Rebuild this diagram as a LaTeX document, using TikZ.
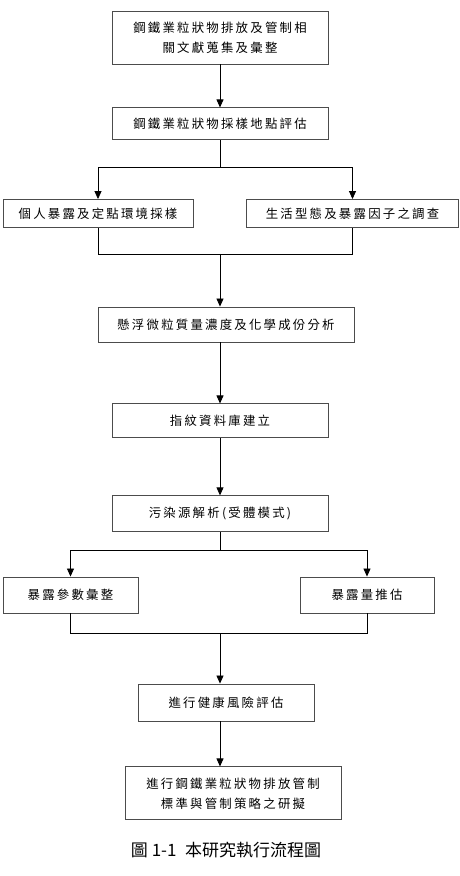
\documentclass[tikz,border=0pt]{standalone}
\usepackage{fontspec}
\newfontfamily\cjk[LetterSpace=18]{Noto Sans CJK TC}
\newfontfamily\cjkcap{Noto Sans CJK TC}
\usetikzlibrary{arrows.meta, positioning}

\begin{document}
\begin{tikzpicture}[
    x=1pt, y=1pt,
    node distance=40pt,
    block/.style={rectangle, draw=black!70, line width=0.9pt, minimum width=216pt, minimum height=34pt, align=center, inner sep=2pt, font=\cjk\fontsize{12.4}{20}\selectfont},
    arrow/.style={->, >={Triangle[width=7pt, length=8pt]}, line width=0.8pt},
    link/.style={line width=0.8pt}
]
\useasboundingbox (0,0) rectangle (460,-876);

\node[block, minimum height=53pt] (lit) at (220,-37.5) {鋼鐵業粒狀物排放及管制相\\關文獻蒐集及彙整};
\node[block, minimum height=32pt, below=43pt of lit] (site) {鋼鐵業粒狀物採樣地點評估};
\node[block, minimum width=190pt, minimum height=28pt] (pers) at (98,-213.5) {個人暴露及定點環境採樣};
\node[block, minimum width=212pt, minimum height=28pt] (life) at (352.5,-213.5) {生活型態及暴露因子之調查};
\node[block, minimum width=256pt, minimum height=35pt] (conc) at (226,-324.5) {懸浮微粒質量濃度及化學成份分析};
\node[block, below=61pt of conc, xshift=-6pt] (finger) {指紋資料庫建立};
\node[block, minimum height=36pt, below=57pt of finger] (source) {污染源解析(受體模式)};
\node[block, minimum width=135pt, minimum height=36pt] (param) at (70.5,-595) {暴露參數彙整};
\node[block, minimum width=134pt, minimum height=36pt] (dose) at (367,-595) {暴露量推估};
\node[block, minimum width=176pt, minimum height=37pt] (risk) at (226,-702.5) {進行健康風險評估};
\node[block, minimum height=53pt, below=45pt of risk, xshift=7pt] (policy) {進行鋼鐵業粒狀物排放管制\\標準與管制策略之研擬};
\node[font=\cjkcap\fontsize{17}{17}\selectfont] (caption) at (226,-850) {圖 1-1\enspace 本研究執行流程圖};

% upper part
\draw[arrow] (lit) -- (site);
\coordinate[below=27pt of site] (split1);
\draw[link] (site) -- (split1);
\draw[arrow] (split1) -| (pers);
\draw[arrow] (split1) -| (life);
\coordinate[below=26pt of pers] (join1);
\draw[link] (pers) -- (join1) -| (life);
\coordinate (merge1) at (join1 -| site);
\draw[arrow] (merge1) -- (merge1 |- conc.north);
\draw[arrow] (conc.south -| finger) -- (finger);
\draw[arrow] (finger) -- (source);

% lower part
\coordinate[below=18pt of source] (split2);
\draw[link] (source) -- (split2);
\draw[arrow] (split2) -| (param);
\draw[arrow] (split2) -| (dose);
\coordinate[below=20pt of param] (join2);
\draw[link] (param) -- (join2) -| (dose);
\coordinate (merge2) at (join2 -| source);
\draw[arrow] (merge2) -- (merge2 |- risk.north);
\draw[arrow] (risk.south -| source) -- (policy.north -| source);

\end{tikzpicture}
\end{document}
